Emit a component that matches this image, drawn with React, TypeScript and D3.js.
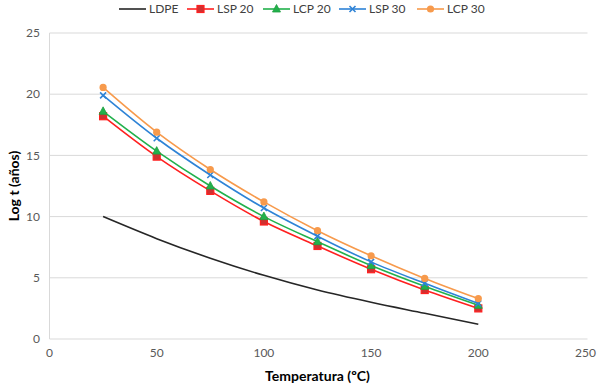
import React from "react";
import * as d3 from "d3";

const temps = [25, 50, 75, 100, 125, 150, 175, 200];
const ldpe = [10.0, 8.2, 6.6, 5.2, 4.0, 3.0, 2.1, 1.2];
const lsp20 = [18.2, 14.9, 12.1, 9.6, 7.6, 5.7, 4.0, 2.5];
const lcp20 = [18.6, 15.35, 12.5, 10.0, 7.95, 6.0, 4.3, 2.75];
const lsp30 = [19.9, 16.4, 13.4, 10.7, 8.4, 6.3, 4.55, 2.9];
const lcp30 = [20.55, 16.9, 13.85, 11.2, 8.85, 6.8, 4.95, 3.3];
const xTicks = [0, 50, 100, 150, 200, 250];
const yTicks = [0, 5, 10, 15, 20, 25];

const series = [
  { name: "LDPE", values: ldpe, color: "#262626", marker: "none" },
  { name: "LSP 20", values: lsp20, color: "#FF2020", marker: "square" },
  { name: "LCP 20", values: lcp20, color: "#22B14C", marker: "triangle" },
  { name: "LSP 30", values: lsp30, color: "#2E83D6", marker: "x" },
  { name: "LCP 30", values: lcp30, color: "#F79A4C", marker: "circle" },
];

const font = "Lato, 'Open Sans', sans-serif";

const Marker = ({ type, x, y, color }) => {
  if (type === "square")
    return <rect x={x - 3.5} y={y - 3.5} width={7} height={7} fill="#D03030" stroke={color} strokeWidth={1.2} />;
  if (type === "triangle")
    return <path d={`M${x},${y - 4.5}L${x + 4},${y + 3}L${x - 4},${y + 3}Z`} fill={color} stroke="#20A040" strokeWidth={0.8} />;
  if (type === "x")
    return (
      <path d={`M${x - 3},${y - 3}L${x + 3},${y + 3}M${x - 3},${y + 3}L${x + 3},${y - 3}`} stroke={color} strokeWidth={1.6} />
    );
  if (type === "circle") return <circle cx={x} cy={y} r={3.6} fill={color} />;
  return null;
};

const App = () => {
  const width = 600;
  const height = 388;
  const x = d3.scaleLinear().domain([0, 250]).range([49.5, 585.5]);
  const y = d3.scaleLinear().domain([0, 25]).range([339, 33]);
  const line = d3
    .line<number>()
    .x((_, i) => x(temps[i]))
    .y(d => y(d))
    .curve(d3.curveCatmullRom.alpha(0.5));

  const legendX = [119, 187, 263, 339, 417];

  return (
    <svg width={width} height={height} style={{ position: "absolute", left: 0, top: 0, fontFamily: font }}>
      <rect width={width} height={height} fill="#fff" />
      {yTicks.map(t => (
        <g key={t}>
          {t > 0 && <line x1={x(0)} x2={x(250) + 2} y1={y(t)} y2={y(t)} stroke="#D9D9D9" strokeWidth={1} />}
          <text x={40} y={y(t)} dy="0.35em" textAnchor="end" fontSize={12} fill="#595959">
            {t}
          </text>
        </g>
      ))}
      <line x1={x(0)} x2={x(250) + 2} y1={y(0)} y2={y(0)} stroke="#D9D9D9" />
      <line x1={x(0)} x2={x(0)} y1={y(0)} y2={y(25)} stroke="#D9D9D9" />
      {xTicks.map(t => (
        <text key={t} x={x(t)} y={357} textAnchor="middle" fontSize={12} fill="#595959">
          {t}
        </text>
      ))}
      <text x={x(125)} y={381} textAnchor="middle" fontSize={14} fontWeight="bold" fill="#000">
        Temperatura (ºC)
      </text>
      <text
        transform={`translate(19, ${y(12.5)}) rotate(-90)`}
        textAnchor="middle"
        fontSize={14}
        fontWeight="bold"
        fill="#000"
      >
        Log t (años)
      </text>
      {series.map(s => (
        <g key={s.name}>
          <path d={line(s.values) || ""} fill="none" stroke={s.color} strokeWidth={1.6} />
          {s.values.map((v, i) => (
            <Marker key={i} type={s.marker} x={x(temps[i])} y={y(v)} color={s.color} />
          ))}
        </g>
      ))}
      {series.map((s, i) => (
        <g key={s.name} transform={`translate(${legendX[i]}, 9)`}>
          <line x1={0} x2={27} y1={0} y2={0} stroke={s.color} strokeWidth={1.6} />
          <Marker type={s.marker} x={13.5} y={0} color={s.color} />
          <text x={30} y={0} dy="0.35em" fontSize={12} fill="#404040">
            {s.name}
          </text>
        </g>
      ))}
    </svg>
  );
};

export default App;
